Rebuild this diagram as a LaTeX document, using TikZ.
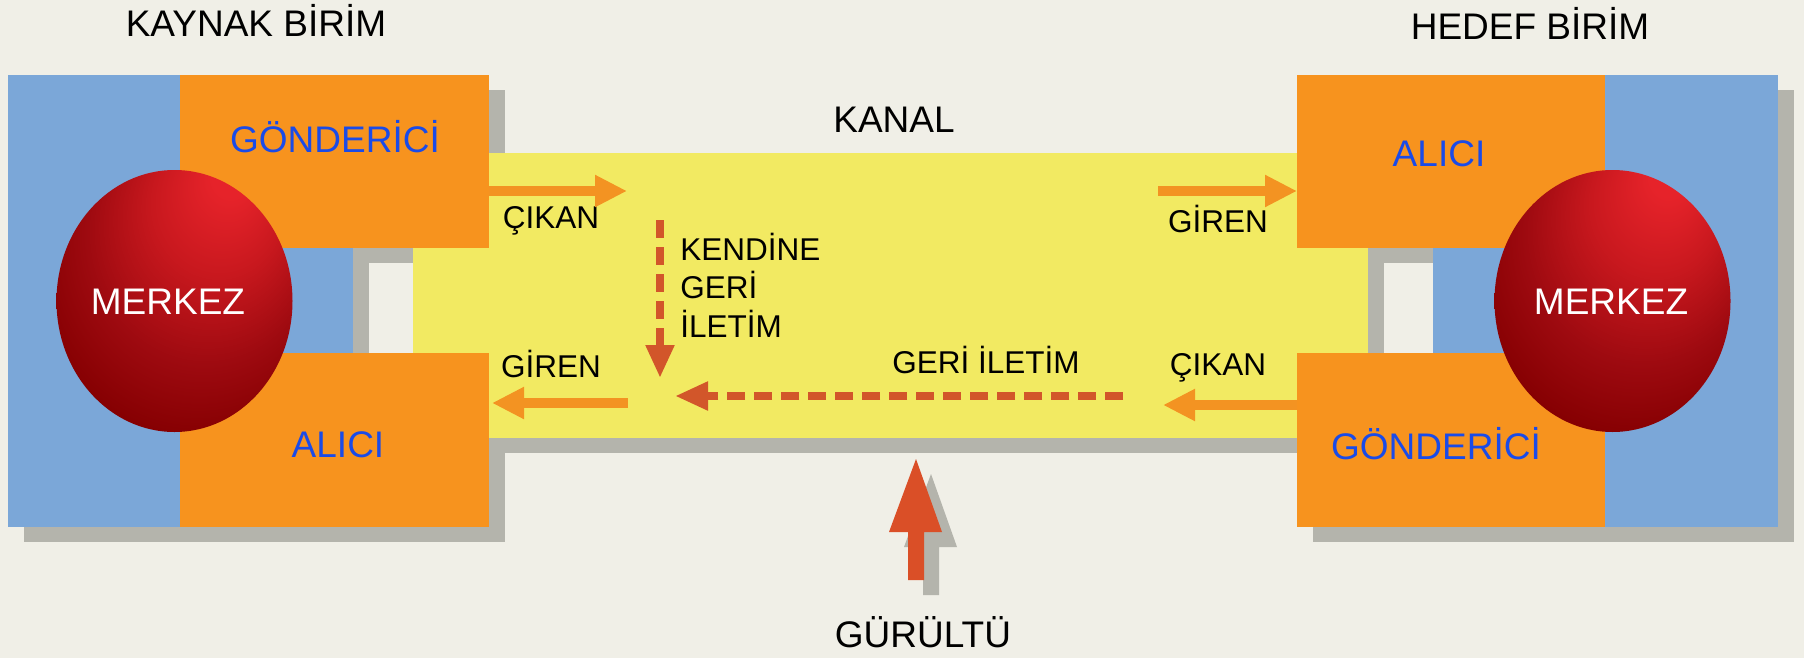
\documentclass[tikz,border=0pt]{standalone}
\usepackage{fontspec}
\setmainfont{Liberation Sans}
\usetikzlibrary{arrows.meta,shapes.geometric}
\definecolor{bg}{HTML}{F0EFE7}
\definecolor{boxblue}{HTML}{7BA7D8}
\definecolor{boxorange}{HTML}{F7931E}
\definecolor{chyellow}{HTML}{F2EA62}
\definecolor{shadowgray}{HTML}{B4B4AC}
\definecolor{txtblue}{HTML}{1A4BE8}
\definecolor{arrorange}{HTML}{F39322}
\definecolor{dashred}{HTML}{D2562A}
\definecolor{noisered}{HTML}{DA4F27}
\definecolor{sphA}{HTML}{E6232A}
\definecolor{sphB}{HTML}{C8181E}
\definecolor{sphC}{HTML}{9E0A10}
\definecolor{sphD}{HTML}{860002}
\definecolor{sphE}{HTML}{780000}
\pgfdeclareradialshading{sphereshade}{\pgfpoint{13bp}{26bp}}{color(0bp)=(sphA); color(4bp)=(sphA); color(14bp)=(sphB); color(25bp)=(sphC); color(34bp)=(sphD); color(44bp)=(sphE); color(50bp)=(sphE)}
\begin{document}
\begin{tikzpicture}[x=0.5pt,y=-0.5pt,
  blk/.style={inner sep=0pt, outer sep=0pt, anchor=north west},
  obox/.style={blk, fill=boxorange},
  bbox/.style={blk, fill=boxblue},
  shd/.style={fill=shadowgray},
  big/.style={font=\fontsize{18.5pt}{22pt}\selectfont, inner sep=0pt, anchor=base},
  small/.style={font=\fontsize{15.75pt}{19pt}\selectfont, inner sep=0pt, anchor=base},
  solidarr/.style={draw=arrorange, line width=5pt, -{Triangle[length=16pt,width=15pt]}},
  dasharr/.style={draw=dashred, line width=4pt, dash pattern=on 9pt off 4.5pt, -{Triangle[length=16.5pt,width=13.5pt]}},
  sphere/.style={ellipse, inner sep=0pt, outer sep=0pt, minimum width=118pt, minimum height=131pt, shade, shading=sphereshade}
]
\fill[bg] (0,0) rectangle (1804,658);
\useasboundingbox (0,0) rectangle (1804,658);
% shadows
\begin{scope}[shift={(16,15)}]
  \fill[shd] (8,75) rectangle (353,527);
  \fill[shd] (180,75) rectangle (489,248);
  \fill[shd] (180,353) rectangle (489,527);
  \fill[shd] (413,153) rectangle (1368,438);
  \fill[shd] (1433,75) rectangle (1778,527);
  \fill[shd] (1297,75) rectangle (1605,248);
  \fill[shd] (1297,353) rectangle (1605,527);
\end{scope}
\begin{scope}[shift={(15,15)}]
  \fill[shd] (916,459) -- (942,532) -- (924,532) -- (924,580) -- (908,580) -- (908,532) -- (889,532) -- cycle;
\end{scope}
% channel
\node[blk, fill=chyellow, minimum width=477.5pt, minimum height=142.5pt] (chan) at (413,153) {};
% left unit
\node[bbox, minimum width=172.5pt, minimum height=226pt] (blueL) at (8,75) {};
\node[obox, minimum width=154.5pt, minimum height=86.5pt] (gL) at (180,75) {};
\node[obox, minimum width=154.5pt, minimum height=87pt] (aL) at (180,353) {};
% right unit
\node[bbox, minimum width=172.5pt, minimum height=226pt] (blueR) at (1433,75) {};
\node[obox, minimum width=154pt, minimum height=86.5pt] (aR) at (1297,75) {};
\node[obox, minimum width=154pt, minimum height=87pt] (gR) at (1297,353) {};
% spheres
\node[sphere] (mL) at (174.5,301) {};
\node[sphere] (mR) at (1612.5,301) {};
% noise arrow
\fill[noisered] (916,459) -- (942,532) -- (924,532) -- (924,580) -- (908,580) -- (908,532) -- (889,532) -- cycle;
% titles
\node[big] (tsrc) at (256,37) {KAYNAK BİRİM};
\node[big] (tdst) at (1530,40) {HEDEF BİRİM};
\node[big] (tkanal) at (894,133) {KANAL};
\node[big] (tnoise) at (923,647) {GÜRÜLTÜ};
% box labels
\node[big, text=txtblue] (lgL) at (335,153) {GÖNDERİCİ};
\node[big, text=txtblue] (laL) at (338,457) {ALICI};
\node[big, text=white] (lmL) at (168,314) {MERKEZ};
\node[big, text=txtblue] (laR) at (1439,166) {ALICI};
\node[big, text=txtblue] (lgR) at (1436,459) {GÖNDERİCİ};
\node[big, text=white] (lmR) at (1611,314) {MERKEZ};
% channel labels
\node[small] (cikL) at (551,228) {ÇIKAN};
\node[small] (girL) at (551,377) {GİREN};
\node[small, anchor=base west] (k1) at (680,260) {KENDİNE};
\node[small, anchor=base west] (k2) at (680,298) {GERİ};
\node[small, anchor=base west] (k3) at (680,337) {İLETİM};
\node[small] (geri) at (986,373) {GERİ İLETİM};
\node[small] (girR) at (1218,232) {GİREN};
\node[small] (cikR) at (1218,375) {ÇIKAN};
% arrow end points
\coordinate (oL1) at (gL.east |- 0,191);
\coordinate (oL2) at (627,191);
\coordinate (iL1) at (628,403);
\coordinate (iL2) at (492,403);
\coordinate (sf1) at (660,220);
\coordinate (sf2) at (660,378);
\coordinate (fb1) at (1123,396);
\coordinate (fb2) at (675,396);
\coordinate (iR1) at (1158,191);
\coordinate (iR2) at (aR.west |- 0,191);
\coordinate (oR1) at (gR.west |- 0,405);
\coordinate (oR2) at (1163,405);
% arrows
\draw[solidarr] (oL1) -- (oL2);
\draw[solidarr] (iL1) -- (iL2);
\draw[solidarr] (iR1) -- (iR2);
\draw[solidarr] (oR1) -- (oR2);
\draw[dasharr] (sf1) -- (sf2);
\draw[dasharr] (fb1) -- (fb2);
\end{tikzpicture}
\end{document}
